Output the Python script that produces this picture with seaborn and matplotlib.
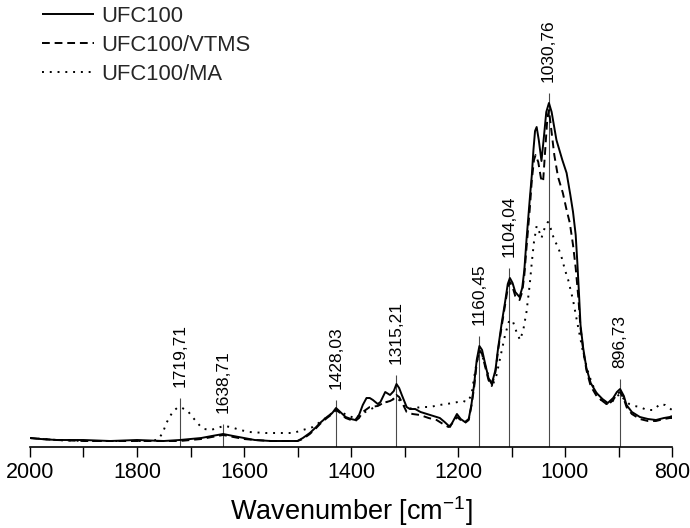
import matplotlib
matplotlib.use("Agg")
import matplotlib.pyplot as plt
from matplotlib.lines import Line2D
from matplotlib.ticker import MultipleLocator
import pandas as pd
import seaborn as sns

# FTIR spectra (absorbance, a.u.) of the three samples
wn_ufc100 = [2000, 1980, 1950, 1900, 1850, 1800, 1750, 1720, 1700, 1680, 1660, 1639, 1620, 1600,
             1580, 1550, 1520, 1500, 1490, 1477, 1465, 1458, 1445, 1435, 1428, 1420, 1410, 1400,
             1392, 1385, 1378, 1371, 1365, 1359, 1350, 1345, 1336, 1327, 1320, 1315, 1310, 1305,
             1296, 1290, 1280, 1270, 1252, 1234, 1225, 1215, 1208, 1202, 1195, 1187, 1180, 1175,
             1170, 1165, 1160, 1155, 1150, 1143, 1137, 1130, 1125, 1118, 1112, 1107, 1103, 1098,
             1093, 1085, 1080, 1076, 1072, 1066, 1062, 1059, 1056, 1053, 1049, 1044, 1040, 1035,
             1030, 1025, 1016, 1005, 997, 990, 985, 980, 977, 974, 971, 966, 960, 952, 941, 930,
             920, 910, 903, 897, 890, 885, 875, 860, 845, 830, 815, 804, 800]
abs_ufc100 = [0.009, 0.008, 0.007, 0.007, 0.006, 0.007, 0.006, 0.007, 0.008, 0.009, 0.011, 0.013,
              0.011, 0.009, 0.007, 0.006, 0.006, 0.006, 0.009, 0.014, 0.020, 0.024, 0.030, 0.034,
              0.039, 0.035, 0.030, 0.028, 0.027, 0.032, 0.042, 0.049, 0.049, 0.047, 0.043, 0.045,
              0.055, 0.052, 0.056, 0.063, 0.059, 0.052, 0.040, 0.038, 0.038, 0.035, 0.032, 0.029,
              0.025, 0.020, 0.027, 0.033, 0.028, 0.025, 0.028, 0.042, 0.062, 0.087, 0.101, 0.097,
              0.085, 0.069, 0.063, 0.077, 0.099, 0.125, 0.145, 0.163, 0.169, 0.164, 0.155, 0.150,
              0.159, 0.177, 0.207, 0.247, 0.272, 0.297, 0.316, 0.320, 0.307, 0.286, 0.307, 0.335,
              0.344, 0.335, 0.307, 0.287, 0.274, 0.252, 0.235, 0.212, 0.185, 0.155, 0.122, 0.099,
              0.079, 0.064, 0.054, 0.048, 0.044, 0.049, 0.055, 0.058, 0.051, 0.042, 0.035, 0.030,
              0.028, 0.027, 0.029, 0.030, 0.031]

wn_vtms = [2000, 1980, 1950, 1900, 1850, 1800, 1750, 1720, 1700, 1680, 1660, 1639, 1620, 1600,
           1580, 1550, 1520, 1500, 1490, 1477, 1465, 1458, 1445, 1435, 1428, 1420, 1410, 1400,
           1392, 1385, 1378, 1365, 1350, 1340, 1327, 1320, 1315, 1310, 1305, 1296, 1285, 1271,
           1255, 1240, 1228, 1218, 1208, 1202, 1195, 1187, 1180, 1175, 1170, 1165, 1160, 1155,
           1150, 1143, 1137, 1130, 1125, 1118, 1112, 1107, 1103, 1098, 1093, 1085, 1080, 1076,
           1072, 1066, 1062, 1058, 1055, 1050, 1045, 1041, 1037, 1033, 1030, 1026, 1020, 1013,
           1004, 997, 991, 985, 980, 975, 971, 966, 960, 952, 941, 930, 920, 910, 903, 897, 890,
           885, 875, 860, 845, 830, 815, 804, 800]
abs_vtms = [0.009, 0.008, 0.007, 0.006, 0.006, 0.006, 0.006, 0.006, 0.007, 0.008, 0.010, 0.012,
            0.010, 0.008, 0.007, 0.006, 0.006, 0.006, 0.008, 0.013, 0.019, 0.023, 0.029, 0.033,
            0.037, 0.034, 0.029, 0.027, 0.026, 0.029, 0.035, 0.040, 0.041, 0.044, 0.046, 0.048,
            0.052, 0.050, 0.045, 0.035, 0.033, 0.032, 0.029, 0.027, 0.023, 0.020, 0.025, 0.030,
            0.027, 0.024, 0.027, 0.041, 0.059, 0.084, 0.097, 0.093, 0.082, 0.067, 0.061, 0.075,
            0.097, 0.122, 0.142, 0.159, 0.165, 0.160, 0.151, 0.147, 0.155, 0.172, 0.199, 0.237,
            0.267, 0.287, 0.292, 0.285, 0.269, 0.265, 0.297, 0.329, 0.337, 0.319, 0.292, 0.270,
            0.254, 0.237, 0.224, 0.202, 0.179, 0.149, 0.119, 0.097, 0.077, 0.061, 0.051, 0.046,
            0.042, 0.047, 0.053, 0.055, 0.048, 0.040, 0.033, 0.028, 0.026, 0.026, 0.028, 0.029,
            0.029]

wn_ma = [2000, 1950, 1900, 1850, 1800, 1770, 1760, 1752, 1745, 1738, 1732, 1725, 1719, 1712,
         1705, 1698, 1690, 1682, 1674, 1662, 1650, 1638, 1625, 1607, 1590, 1560, 1530, 1508,
         1490, 1471, 1455, 1440, 1428, 1415, 1405, 1392, 1380, 1370, 1355, 1340, 1327, 1315,
         1305, 1296, 1284, 1265, 1252, 1235, 1221, 1200, 1190, 1184, 1178, 1174, 1170, 1165,
         1160, 1155, 1148, 1140, 1135, 1128, 1120, 1112, 1104, 1097, 1090, 1084, 1078, 1072,
         1066, 1062, 1058, 1053, 1048, 1044, 1038, 1032, 1027, 1020, 1013, 1006, 1000, 994,
         985, 978, 966, 958, 950, 938, 925, 915, 905, 897, 890, 880, 870, 860, 847, 835, 822,
         813, 800]
abs_ma = [0.009, 0.007, 0.006, 0.006, 0.006, 0.006, 0.008, 0.014, 0.024, 0.031, 0.036, 0.039,
          0.040, 0.038, 0.036, 0.031, 0.026, 0.021, 0.018, 0.017, 0.019, 0.021, 0.020, 0.017,
          0.015, 0.014, 0.014, 0.014, 0.017, 0.020, 0.026, 0.032, 0.037, 0.034, 0.031, 0.029,
          0.033, 0.036, 0.040, 0.044, 0.046, 0.050, 0.044, 0.038, 0.039, 0.040, 0.040, 0.042,
          0.043, 0.045, 0.046, 0.045, 0.049, 0.055, 0.069, 0.085, 0.095, 0.092, 0.079, 0.067,
          0.062, 0.072, 0.092, 0.112, 0.127, 0.125, 0.114, 0.107, 0.117, 0.135, 0.162, 0.185,
          0.205, 0.221, 0.215, 0.209, 0.219, 0.225, 0.219, 0.207, 0.200, 0.189, 0.177, 0.167,
          0.147, 0.127, 0.094, 0.077, 0.064, 0.050, 0.043, 0.043, 0.050, 0.053, 0.048, 0.043,
          0.041, 0.040, 0.037, 0.037, 0.043, 0.042, 0.037]

samples = ["UFC100", "UFC100/VTMS", "UFC100/MA"]

# Annotated band positions and the height of each marker line
peak_wn = [1719.71, 1638.71, 1428.03, 1315.21, 1160.45, 1104.04, 1030.76, 896.73]
peak_labels = ["1719,71", "1638,71", "1428,03", "1315,21", "1160,45", "1104,04", "1030,76", "896,73"]
peak_top = [0.049, 0.023, 0.047, 0.072, 0.111, 0.179, 0.354, 0.068]

df = pd.concat([
    pd.DataFrame({"wavenumber": wn_ufc100, "absorbance": abs_ufc100, "sample": samples[0]}),
    pd.DataFrame({"wavenumber": wn_vtms, "absorbance": abs_vtms, "sample": samples[1]}),
    pd.DataFrame({"wavenumber": wn_ma, "absorbance": abs_ma, "sample": samples[2]}),
], ignore_index=True)

sns.set_theme(style="white")
plt.rcParams["font.family"] = ["Liberation Sans", "DejaVu Sans"]
plt.rcParams["mathtext.fontset"] = "custom"
plt.rcParams["mathtext.rm"] = "Liberation Sans"
plt.rcParams["mathtext.it"] = "Liberation Sans"
plt.rcParams["mathtext.default"] = "regular"
plt.rcParams["lines.solid_capstyle"] = "butt"
plt.rcParams["lines.dash_capstyle"] = "butt"

fig = plt.figure(figsize=(6.9, 5.28), dpi=100)
ax = fig.add_axes([30 / 690, 81 / 528, 642 / 690, 447 / 528])

line_w = 1.4
dash_map = {"UFC100": "", "UFC100/VTMS": (4, 2.5), "UFC100/MA": (1, 3)}
sns.lineplot(data=df, x="wavenumber", y="absorbance", style="sample", style_order=samples,
             dashes=dash_map, color="black", estimator=None, sort=False, lw=line_w, ax=ax,
             legend=False)

# band markers with rotated labels
ax.vlines(peak_wn, 0, peak_top, color="#4a4a4a", lw=0.8, zorder=1)
for x, top, lab in zip(peak_wn, peak_top, peak_labels):
    ax.annotate(lab, xy=(x, top), xytext=(0, 8), textcoords="offset points",
                rotation=90, ha="center", va="bottom", fontsize=12.5, color="black")

ax.set_xlim(2000, 800)
ax.set_ylim(0, 0.447)
ax.xaxis.set_major_locator(MultipleLocator(200))
ax.xaxis.set_minor_locator(MultipleLocator(100))
ax.tick_params(axis="x", which="both", direction="out", length=7, width=1.0,
               color="black", bottom=True, labelsize=15.5, pad=4, labelcolor="black")
ax.set_yticks([])
ax.set_ylabel("")
for side in ("left", "top", "right"):
    ax.spines[side].set_visible(False)
ax.spines["bottom"].set_color("black")
ax.spines["bottom"].set_linewidth(1.2)
ax.set_xlabel("Wavenumber [cm$^{-1}$]", fontsize=19.5, labelpad=8, color="black")
ax.set_facecolor("white")

handles = [Line2D([0, 1], [0, 0], color="black", lw=line_w, linestyle="-"),
           Line2D([0, 1], [0, 0], color="black", lw=line_w, dashes=dash_map["UFC100/VTMS"]),
           Line2D([0, 1], [0, 0], color="black", lw=line_w, dashes=dash_map["UFC100/MA"])]
fig.legend(handles, samples, loc="upper left", bbox_to_anchor=(42 / 690, 1 - 6 / 528),
           frameon=False, fontsize=15.8, handlelength=2.35, handletextpad=0.35,
           labelspacing=0.36, borderpad=0, borderaxespad=0)

fig.savefig("out.png", dpi=100, facecolor="white")
